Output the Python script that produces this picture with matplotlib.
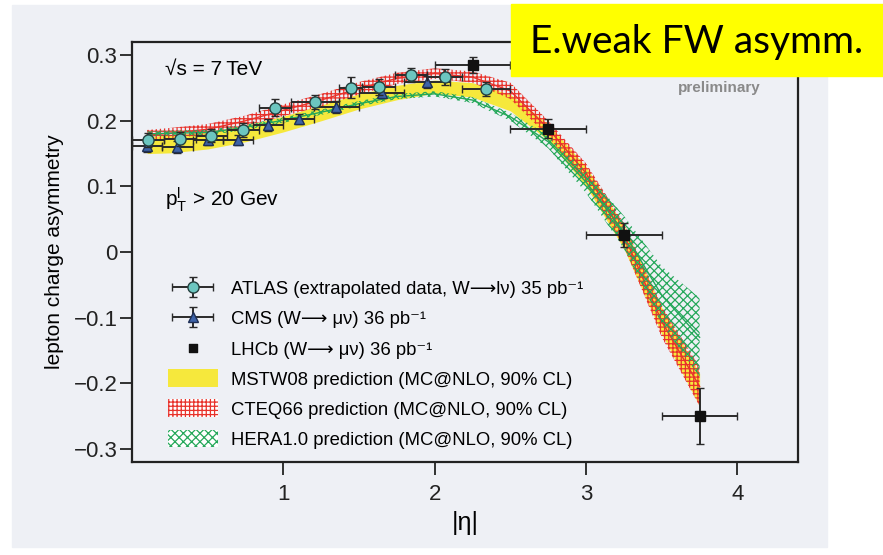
import matplotlib
matplotlib.use("Agg")
from matplotlib import pyplot as plt
from matplotlib.patches import Rectangle, Patch
from matplotlib.legend_handler import HandlerErrorbar
import numpy as np

plt.rcParams["font.family"] = ["Liberation Sans", "DejaVu Sans"]
plt.rcParams["mathtext.fontset"] = "custom"
plt.rcParams["mathtext.rm"] = "Liberation Sans"
plt.rcParams["mathtext.it"] = "Liberation Sans:italic"
plt.rcParams["hatch.linewidth"] = 0.9

# ATLAS (extrapolated data), bins in |eta|
atlas_lo = [0.0, 0.21, 0.42, 0.63, 0.84, 1.05, 1.37, 1.52, 1.74, 1.95, 2.18]
atlas_hi = [0.21, 0.42, 0.63, 0.84, 1.05, 1.37, 1.52, 1.74, 1.95, 2.18, 2.5]
atlas_y = [0.171, 0.172, 0.177, 0.186, 0.220, 0.229, 0.250, 0.252, 0.270, 0.267, 0.248]
atlas_err = [0.011, 0.011, 0.010, 0.011, 0.013, 0.011, 0.016, 0.012, 0.011, 0.012, 0.011]

# CMS (W -> mu nu)
cms_lo = [0.0, 0.2, 0.4, 0.6, 0.8, 1.0, 1.2, 1.5, 1.8]
cms_hi = [0.2, 0.4, 0.6, 0.8, 1.0, 1.2, 1.5, 1.8, 2.1]
cms_y = [0.162, 0.160, 0.171, 0.171, 0.194, 0.203, 0.221, 0.243, 0.259]
cms_err = [0.009, 0.009, 0.008, 0.008, 0.009, 0.008, 0.009, 0.009, 0.009]

# LHCb (W -> mu nu)
lhcb_lo = [2.0, 2.5, 3.0, 3.5]
lhcb_hi = [2.5, 3.0, 3.5, 4.0]
lhcb_y = [0.285, 0.188, 0.026, -0.250]
lhcb_err = [0.012, 0.015, 0.018, 0.043]

# theory bands (90% CL)
eta_band = [0.1, 0.25, 0.5, 0.75, 1.0, 1.25, 1.5, 1.75, 2.0, 2.25, 2.5, 2.75, 3.0, 3.25, 3.5, 3.75]
mstw_lo = [0.150, 0.151, 0.157, 0.168, 0.183, 0.200, 0.218, 0.232, 0.242, 0.236, 0.215, 0.170, 0.100, 0.005, -0.125, -0.235]
mstw_hi = [0.176, 0.178, 0.183, 0.193, 0.207, 0.224, 0.241, 0.254, 0.262, 0.258, 0.240, 0.195, 0.130, 0.040, -0.085, -0.185]
cteq_lo = [0.170, 0.173, 0.179, 0.192, 0.207, 0.222, 0.240, 0.256, 0.264, 0.258, 0.233, 0.176, 0.105, 0.008, -0.130, -0.235]
cteq_hi = [0.186, 0.189, 0.195, 0.208, 0.225, 0.241, 0.259, 0.273, 0.280, 0.275, 0.258, 0.200, 0.135, 0.044, -0.082, -0.175]
hera_lo = [0.176, 0.177, 0.178, 0.186, 0.197, 0.209, 0.222, 0.233, 0.237, 0.227, 0.200, 0.158, 0.090, 0.005, -0.110, -0.190]
hera_hi = [0.184, 0.185, 0.186, 0.194, 0.205, 0.217, 0.230, 0.241, 0.245, 0.236, 0.212, 0.178, 0.123, 0.055, -0.022, -0.070]

bg = "#eef0f5"
yellow = "#f6e83c"
red = "#e8322b"
green = "#25a85a"
ecol = "#2a2a2a"

fig = plt.figure(figsize=(8.83, 5.55), dpi=100)
fig.patches.append(Rectangle((12 / 883, 1 - 547 / 555), 815 / 883, 542 / 555,
                             transform=fig.transFigure, color=bg, zorder=-10))
ax = fig.add_axes([132 / 883, 1 - 462 / 555, 666 / 883, 420 / 555])
ax.set_facecolor(bg)

eta = np.array(eta_band)
ax.fill_between(eta, mstw_lo, mstw_hi, color=yellow, lw=0, zorder=1)
ax.fill_between(eta, cteq_lo, cteq_hi, facecolor="none", edgecolor=red,
                hatch="++++", lw=0, zorder=2)
ax.plot(eta, (np.array(cteq_lo) + np.array(cteq_hi)) / 2, color=red, lw=1.0, zorder=2)
ax.fill_between(eta, hera_lo, hera_hi, facecolor="none", edgecolor=green,
                hatch="xxxx", lw=0, zorder=3)
ax.plot(eta, (np.array(hera_lo) + np.array(hera_hi)) / 2, color=green, lw=1.0, zorder=3)


def centres(lo, hi):
    lo, hi = np.array(lo), np.array(hi)
    return (lo + hi) / 2, (hi - lo) / 2


x, xe = centres(cms_lo, cms_hi)
h_cms = ax.errorbar(x, cms_y, yerr=cms_err, xerr=xe, fmt="^", ms=7, mfc="#3d63a8",
                    mec="#1e2f55", ecolor=ecol, elinewidth=1.4, capsize=3, zorder=5)
x, xe = centres(atlas_lo, atlas_hi)
h_atlas = ax.errorbar(x, atlas_y, yerr=atlas_err, xerr=xe, fmt="o", ms=8, mfc="#6cc6c0",
                      mec="#24403e", ecolor=ecol, elinewidth=1.4, capsize=3, zorder=6)
x, xe = centres(lhcb_lo, lhcb_hi)
ax.errorbar(x, lhcb_y, yerr=lhcb_err, xerr=xe, fmt="s", ms=7, mfc="#111111",
            mec="#111111", ecolor=ecol, elinewidth=1.4, capsize=3, zorder=7)
h_lhcb = ax.scatter([], [], marker="s", s=36, color="#111111")

ax.set_xlim(0, 4.4)
ax.set_ylim(-0.32, 0.32)
ax.set_xticks([1, 2, 3, 4])
ax.set_yticks([-0.3, -0.2, -0.1, 0, 0.1, 0.2, 0.3])
ax.set_yticklabels(["\u22120.3", "\u22120.2", "\u22120.1", "0", "0.1", "0.2", "0.3"])
ax.tick_params(direction="out", length=9, width=1.3, labelsize=16, colors="#222222",
               pad=1.5)
ax.tick_params(axis="x", pad=7)
for s in ax.spines.values():
    s.set_linewidth(1.6)
    s.set_color("#222222")

ax.set_xlabel("|\u03b7|", fontsize=18, labelpad=4)
ax.set_ylabel("lepton charge asymmetry", fontsize=15, labelpad=7)

ax.text(0.05, 0.935, "\u221as = 7\u2009TeV", transform=ax.transAxes, fontsize=15,
        va="center")
ax.text(0.05, 0.625, r"p$_\mathregular{T}^\mathregular{l}$ > 20 Gev", transform=ax.transAxes,
        fontsize=15, va="center")
ax.text(0.82, 0.89, "preliminary", transform=ax.transAxes, fontsize=11,
        color="#8a8a8a", fontweight="bold", va="center")

handles = [
    h_atlas,
    h_cms,
    h_lhcb,
    Patch(facecolor=yellow, edgecolor="none"),
    Patch(facecolor="white", edgecolor=red, hatch="++++", lw=0),
    Patch(facecolor="white", edgecolor=green, hatch="xxxx", lw=0),
]
labels = [
    "ATLAS (extrapolated data, W\u27f6l\u03bd) 35 pb\u207b\u00b9",
    "CMS (W\u27f6 \u03bc\u03bd) 36 pb\u207b\u00b9",
    "LHCb (W\u27f6 \u03bc\u03bd) 36 pb\u207b\u00b9",
    "MSTW08 prediction (MC@NLO, 90% CL)",
    "CTEQ66 prediction (MC@NLO, 90% CL)",
    "HERA1.0 prediction (MC@NLO, 90% CL)",
]
eb_handler = HandlerErrorbar(xerr_size=1.1, yerr_size=0.55)
ax.legend(handles, labels, loc="upper left", bbox_to_anchor=(0.04, 0.457),
          frameon=False, fontsize=13.3, handlelength=2.7, handleheight=1.1,
          handletextpad=0.7, labelspacing=0.59, borderpad=0,
          handler_map={type(h_atlas): eb_handler})

fig.patches.append(Rectangle((511 / 883, 1 - 76 / 555), 372 / 883, 72 / 555,
                             transform=fig.transFigure, color="#ffff00", zorder=20))
fig.text(697 / 883, 1 - 42 / 555, "E.weak FW asymm.", fontsize=28, ha="center",
         va="center", family=["Lato", "Open Sans", "DejaVu Sans"], zorder=21)

fig.savefig("out.png", dpi=100)
